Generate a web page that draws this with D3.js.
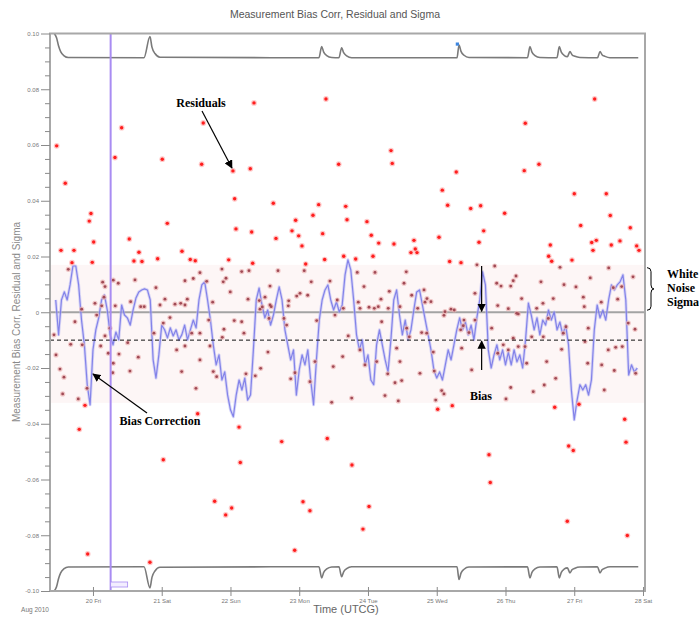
<!DOCTYPE html>
<html>
<head>
<meta charset="utf-8">
<script src="https://cdn.jsdelivr.net/npm/d3@7"></script>
<style>
  body { margin: 0; background: #fff; }
  svg { display: block; }
</style>
</head>
<body>
<svg id="chart" width="699" height="621"></svg>
<script>
// ---------------------------------------------------------------------------
// Data (time given in days or hours after 20 Aug 2010 00:00 UTCG)
// ---------------------------------------------------------------------------
const chartTitle = "Measurement Bias Corr, Residual and Sigma";
const yAxisTitle = "Measurement Bias Corr, Residual and Sigma";
const xAxisTitle = "Time (UTCG)";
const xEpochLabel = "Aug 2010";

const timeStart = new Date(Date.UTC(2010, 7, 19, 9, 0));
const timeEnd = new Date(Date.UTC(2010, 7, 28, 0, 42));
const xTickDates = d3.range(20, 29).map(day => new Date(Date.UTC(2010, 7, day)));

const yMajorTicks = [0.10, 0.08, 0.06, 0.04, 0.02, 0, -0.02, -0.04, -0.06, -0.08, -0.10];

// Residuals: time (days) and value
const residualDay = [
  -0.528,-0.403,-0.465,-0.276,-0.029,-0.054,0.010,-0.010,-0.305,0.417,0.320,0.528,0.669,0.596,0.713,
  1.008,1.081,0.941,1.295,1.415,1.488,1.604,1.581,2.036,2.288,2.342,2.061,2.080,2.308,1.974,
  2.623,2.662,2.948,2.895,2.992,3.040,3.200,3.283,3.341,3.389,3.574,3.676,3.695,3.647,3.370,
  2.323,3.094,3.821,3.985,4.048,4.156,4.073,4.335,4.353,4.378,4.669,4.688,4.625,4.713,
  5.081,5.159,5.284,5.033,5.188,5.353,5.494,5.639,5.683,5.615,5.585,5.988,6.288,6.273,6.487,
  6.652,6.628,6.672,6.967,7.001,7.094,7.297,7.466,7.524,7.254,7.321,7.273,7.539,7.665,7.815,
  7.908,7.942,6.793,
  -0.116,-0.199,-0.077,0.829,1.023,1.523,2.124,2.143,1.770,2.017,1.930,2.745,2.934,3.055,3.156,
  3.408,3.472,3.767,4.015,3.927,5.014,5.226,5.760,5.779,6.716,7.069,6.919,6.986,6.899,7.734,
  7.753,7.772,
  -0.359,0.141,0.175,0.160,0.029,0.127,-0.164,0.054,0.295,0.368,0.611,0.548,0.746,0.694,0.916,
  1.047,1.193,1.276,1.338,1.372,1.459,1.556,1.654,1.876,1.895,1.935,1.997,2.163,2.269,2.255,
  2.429,2.502,2.575,2.593,2.691,2.847,2.963,3.011,3.123,3.073,3.175,3.447,3.553,3.641,1.741,
  1.120,-0.262,-0.567,-0.324,-0.156,-0.538,-0.480,-0.422,-0.441,-0.214,-0.087,0.112,0.175,0.247,
  0.223,0.295,0.287,0.378,0.505,0.659,0.538,0.324,1.023,0.887,1.217,1.290,0.975,1.338,1.498,
  1.556,1.556,1.338,1.436,1.683,1.702,1.750,1.799,1.881,1.905,2.055,2.163,2.196,2.225,2.361,
  2.439,2.463,2.575,2.560,2.545,2.778,2.817,2.841,2.938,2.876,3.156,3.254,3.520,3.632,3.495,
  3.229,2.419,3.844,4.102,3.942,3.859,3.884,4.015,4.092,4.189,4.310,4.295,4.465,4.524,4.557,
  4.636,4.815,4.858,4.916,4.829,4.723,5.105,5.207,5.255,5.556,5.843,5.872,5.935,6.076,6.113,
  6.153,5.887,6.041,6.235,6.516,6.545,6.695,6.851,7.025,7.132,7.233,7.393,7.501,7.568,7.632,
  7.690,7.855,6.163,4.150,4.199,3.713,3.884,3.956,4.127,4.287,4.417,4.465,4.393,4.490,4.247,
  4.441,3.763,4.563,4.601,4.781,4.854,4.950,4.756,4.964,4.985,5.072,5.105,5.120,5.396,5.386,
  5.348,5.469,5.556,5.508,5.363,5.799,5.887,5.968,6.041,6.113,6.186,6.284,6.186,6.076,6.007,
  6.381,6.308,6.599,6.404,6.564,6.550,6.730,6.841,6.880,6.817,6.623,6.454,7.204,7.156,7.196,
  7.399,7.437,7.495,7.603,7.699,7.786,7.884,7.894,7.583,7.146
];
const residualValue = [
  0.0597,0.0463,0.0222,0.0222,0.0354,0.0327,0.0252,0.0179,0.0178,0.0662,0.0555,0.0263,0.0215,0.0184,0.0182,
  0.0549,0.0319,0.0192,0.0219,0.0189,0.0185,0.0679,0.0531,0.0507,0.0515,0.0751,0.0407,0.0299,0.0288,0.0188,
  0.0391,0.0265,0.0330,0.0292,0.0274,0.0238,0.0348,0.0386,0.0282,0.0765,0.0531,0.0380,0.0332,0.0201,0.0189,
  0.0176,0.0173,0.0191,0.0325,0.0276,0.0248,0.0201,0.0580,0.0534,0.0245,0.0258,0.0227,0.0214,0.0214,
  0.0438,0.0384,0.0503,0.0269,0.0182,0.0178,0.0372,0.0382,0.0292,0.0251,0.0170,0.0355,0.0678,0.0508,0.0531,
  0.0241,0.0201,0.0183,0.0187,0.0425,0.0311,0.0765,0.0425,0.0347,0.0250,0.0258,0.0222,0.0241,0.0256,0.0303,
  0.0238,0.0222,0.0161,
  -0.0334,-0.0420,-0.0867,-0.0897,-0.0529,-0.0364,-0.0412,-0.0539,-0.0678,-0.0702,-0.0727,-0.0464,-0.0854,-0.0680,-0.0712,
  -0.0453,-0.0323,-0.0548,-0.0697,-0.0778,-0.0348,-0.0335,-0.0511,-0.0611,-0.0341,-0.0330,-0.0480,-0.0496,-0.0750,-0.0384,
  -0.0466,-0.0801,
  0.0154,0.0108,0.0092,0.0054,0.0032,0.0023,0.0011,-0.0010,0.0115,0.0104,0.0116,0.0038,0.0020,0.0020,0.0088,
  0.0047,0.0029,0.0032,0.0113,0.0047,0.0121,0.0142,0.0111,0.0155,0.0109,0.0122,0.0073,0.0146,0.0149,0.0047,
  0.0011,0.0054,0.0094,0.0020,0.0149,0.0041,0.0058,0.0068,0.0061,0.0149,0.0109,0.0112,0.0044,0.0014,0.0036,
  -0.0019,-0.0034,-0.0081,-0.0115,-0.0117,-0.0153,-0.0204,-0.0233,-0.0293,-0.0311,-0.0273,-0.0121,-0.0085,-0.0057,
  -0.0147,-0.0183,-0.0217,-0.0150,-0.0109,-0.0161,-0.0211,0.0023,-0.0039,-0.0075,-0.0135,-0.0213,0.0026,0.0026,-0.0273,
  -0.0171,-0.0075,-0.0121,-0.0075,-0.0028,-0.0121,-0.0213,-0.0231,-0.0090,-0.0061,-0.0030,-0.0034,-0.0075,-0.0221,-0.0228,
  -0.0201,0.0019,0.0026,-0.0022,-0.0143,-0.0022,-0.0046,0.0023,-0.0217,-0.0239,-0.0249,-0.0030,-0.0010,-0.0159,-0.0195,
  -0.0177,0.0042,0.0143,0.0143,0.0092,0.0036,0.0014,0.0018,0.0014,0.0047,0.0075,0.0014,0.0020,0.0104,0.0145,
  0.0061,0.0080,0.0049,0.0038,0.0036,0.0014,-0.0011,0.0011,0.0008,0.0068,0.0166,0.0104,0.0094,0.0094,0.0113,
  0.0130,0.0024,0.0013,0.0049,0.0109,0.0032,0.0049,0.0099,0.0091,0.0054,0.0123,0.0036,0.0159,0.0088,0.0047,
  0.0092,0.0127,-0.0004,0.0020,-0.0034,-0.0085,-0.0135,-0.0189,-0.0177,-0.0221,-0.0129,-0.0177,-0.0253,-0.0245,-0.0299,
  -0.0318,-0.0308,-0.0057,-0.0088,-0.0073,-0.0075,-0.0143,-0.0219,-0.0211,-0.0315,-0.0281,-0.0293,0.0002,-0.0028,-0.0048,
  -0.0063,-0.0073,-0.0028,-0.0207,-0.0129,-0.0057,-0.0147,-0.0117,-0.0135,-0.0093,-0.0123,-0.0123,-0.0006,-0.0270,-0.0311,
  -0.0088,-0.0183,-0.0177,-0.0285,-0.0261,-0.0088,-0.0237,-0.0075,-0.0052,-0.0133,-0.0022,0.0014,-0.0057,-0.0105,-0.0183,
  -0.0189,-0.0279,-0.0135,-0.0126,-0.0123,-0.0039,-0.0061,-0.0219,-0.0209,0.0020
];

// Bias correction, sampled hourly starting at hour -13
const biasCorrStartHour = -13;
const biasCorrValue = [
  0.0044,-0.0081,0.0044,0.0073,0.0044,0.0098,0.0166,0.0166,0.0098,-0.0028,-0.0117,-0.0260,-0.0332,
  -0.0135,-0.0063,-0.0020,0.0044,0.0062,0.0008,-0.0081,-0.0117,-0.0071,-0.0099,
  0.0026,-0.0010,-0.0020,-0.0046,0.0008,0.0051,0.0073,0.0080,0.0084,0.0080,
  0.0044,-0.0171,-0.0236,-0.0153,-0.0046,-0.0063,-0.0092,-0.0056,-0.0085,-0.0063,
  -0.0099,-0.0081,-0.0046,-0.0099,-0.0063,-0.0028,-0.0056,0.0044,0.0098,0.0109,
  0.0044,-0.0028,-0.0117,-0.0189,-0.0153,-0.0243,-0.0214,-0.0297,-0.0350,-0.0375,
  -0.0297,-0.0243,-0.0279,-0.0236,-0.0315,-0.0297,-0.0135,0.0044,0.0087,0.0026,
  -0.0020,0.0008,-0.0046,-0.0010,0.0044,0.0091,0.0044,-0.0063,-0.0117,-0.0171,
  -0.0135,-0.0297,-0.0207,-0.0153,-0.0189,-0.0135,-0.0243,-0.0332,-0.0171,-0.0028,
  0.0044,0.0080,0.0098,0.0044,0.0008,0.0037,0.0001,0.0026,0.0134,0.0188,
  0.0152,0.0044,-0.0081,-0.0135,-0.0099,-0.0189,-0.0153,-0.0243,-0.0260,-0.0117,
  -0.0063,-0.0117,-0.0171,-0.0214,-0.0099,0.0044,0.0080,-0.0010,-0.0081,-0.0028,
  -0.0099,-0.0063,0.0008,0.0073,0.0080,0.0026,-0.0028,-0.0081,-0.0135,-0.0207,
  -0.0236,-0.0214,-0.0243,-0.0189,-0.0135,-0.0171,-0.0117,-0.0063,-0.0020,-0.0063,
  -0.0035,-0.0081,-0.0046,-0.0099,-0.0020,0.0044,0.0145,0.0098,-0.0135,-0.0200,
  -0.0153,-0.0117,-0.0171,-0.0135,-0.0189,-0.0143,-0.0189,-0.0135,-0.0178,-0.0153,
  -0.0200,-0.0099,0.0033,-0.0010,-0.0063,-0.0020,-0.0081,-0.0028,-0.0046,0.0008,
  -0.0028,0.0001,-0.0063,-0.0035,-0.0081,-0.0046,-0.0117,-0.0279,-0.0386,-0.0315,
  -0.0260,-0.0279,-0.0260,-0.0297,-0.0243,-0.0063,0.0026,-0.0020,0.0008,-0.0028,
  0.0044,0.0098,0.0080,0.0098,0.0109,0.0134,0.0044,-0.0225,-0.0189,-0.0214,
  -0.0200
];

// Filter sigma (drawn as +sigma and -sigma)
const sigmaDay = [
  -0.563,-0.530,-0.500,-0.470,-0.420,-0.360,
  0.742,0.829,0.858,0.902,0.974,
  3.287,3.327,3.356,3.400,3.472,
  3.578,3.617,3.646,3.690,3.762,
  5.295,5.324,5.353,5.397,5.469,
  6.320,6.356,6.385,6.429,6.501,
  6.749,6.783,6.812,6.856,6.900,6.938,6.967,7.011,7.083,
  7.338,7.375,7.404,7.448,7.520,
  7.931
];
const sigmaValue = [
  0.1000,0.0985,0.0955,0.0935,0.0920,0.0914,
  0.0913,0.0989,0.0951,0.0928,0.0915,
  0.0913,0.0953,0.0933,0.0921,0.0914,
  0.0913,0.0949,0.0931,0.0920,0.0913,
  0.0913,0.0959,0.0936,0.0922,0.0914,
  0.0913,0.0953,0.0933,0.0921,0.0914,
  0.0913,0.0953,0.0933,0.0921,0.0917,0.0935,0.0924,0.0918,0.0914,
  0.0913,0.0935,0.0924,0.0918,0.0913,
  0.0913
];

const biasLevel = -0.010;          // estimated measurement bias
const whiteNoiseSigma = 0.016;     // white noise sigma bracket
const bandUpper = 0.0170;          // shaded residual band
const bandLower = -0.0325;
const epochMarkerDay = 0.257;      // vertical time marker
const sigmaMarkerDay = 5.300, sigmaMarkerValue = 0.0962;
const biasArrowDay = 5.653;

// ---------------------------------------------------------------------------
const DAY = 864e5;
const T0 = Date.UTC(2010, 7, 20);
const dayToDate = d => new Date(T0 + d * DAY);

const svg = d3.select("#chart");
const plot = { left: 50, right: 645, top: 33.5, bottom: 591 };

const x = d3.scaleUtc().domain([timeStart, timeEnd]).range([plot.left, plot.right]);
const y = d3.scaleLinear().domain([-0.10, 0.10]).range([plot.bottom, plot.top]);

const sansFont = "'Liberation Sans', Arial, sans-serif";
const serifFont = "'Liberation Serif', 'Times New Roman', serif";

// Title
svg.append("text")
  .attr("x", 335).attr("y", 18)
  .attr("text-anchor", "middle")
  .attr("font-family", sansFont).attr("font-size", 10.5)
  .attr("fill", "#555")
  .text(chartTitle);

// Plot group clipped to the frame
svg.append("defs").append("clipPath").attr("id", "plotClip")
  .append("rect")
  .attr("x", plot.left).attr("y", plot.top)
  .attr("width", plot.right - plot.left).attr("height", plot.bottom - plot.top);

const g = svg.append("g").attr("clip-path", "url(#plotClip)");

// Shaded residual band
g.append("rect")
  .attr("x", plot.left).attr("width", plot.right - plot.left)
  .attr("y", y(bandUpper)).attr("height", y(bandLower) - y(bandUpper))
  .attr("fill", "#fdf6f6");

// Zero line
g.append("line")
  .attr("x1", plot.left).attr("x2", plot.right)
  .attr("y1", y(0)).attr("y2", y(0))
  .attr("stroke", "#a3a3a3").attr("stroke-width", 2);

// Bias correction line
const biasCorr = biasCorrValue.map((v, i) => ({
  t: new Date(T0 + (biasCorrStartHour + i) * 36e5), v
}));
const biasLine = d3.line().x(d => x(d.t)).y(d => y(d.v));
g.append("path").datum(biasCorr)
  .attr("d", biasLine).attr("fill", "none")
  .attr("stroke", "#b8b8f4").attr("stroke-width", 3).attr("opacity", 0.55)
  .attr("stroke-linejoin", "round");
g.append("path").datum(biasCorr)
  .attr("d", biasLine).attr("fill", "none")
  .attr("stroke", "#7474e6").attr("stroke-width", 1.2).attr("opacity", 0.85)
  .attr("stroke-linejoin", "round");

// Residual points
const residuals = residualDay.map((d, i) => ({ t: dayToDate(d), v: residualValue[i] }));
const inBand = d => d.v <= bandUpper && d.v >= bandLower;
g.append("g").selectAll("circle").data(residuals).join("circle")
  .attr("cx", d => x(d.t)).attr("cy", d => y(d.v))
  .attr("r", d => inBand(d) ? 2.6 : 2.9)
  .attr("fill", d => inBand(d) ? "#eab0b0" : "#ffb0b0")
  .attr("opacity", 0.7);
g.append("g").selectAll("circle").data(residuals).join("circle")
  .attr("cx", d => x(d.t)).attr("cy", d => y(d.v))
  .attr("r", d => inBand(d) ? 1.4 : 1.7)
  .attr("fill", d => inBand(d) ? "#a04a55" : "#ff1e1e");

// Bias level (dashed)
g.append("line")
  .attr("x1", plot.left).attr("x2", plot.right)
  .attr("y1", y(biasLevel)).attr("y2", y(biasLevel))
  .attr("stroke", "#111").attr("stroke-width", 1)
  .attr("stroke-dasharray", "4,3");

// Sigma envelope
const sigma = sigmaDay.map((d, i) => ({ t: dayToDate(d), v: sigmaValue[i] }));
const sigmaLine = d3.line().x(d => x(d.t)).y(d => y(d.v)).curve(d3.curveMonotoneX);
const sigmaLineNeg = d3.line().x(d => x(d.t)).y(d => y(-d.v)).curve(d3.curveMonotoneX);
g.append("path").datum(sigma).attr("d", sigmaLine)
  .attr("fill", "none").attr("stroke", "#7a7a7a").attr("stroke-width", 1.6);
g.append("path").datum(sigma).attr("d", sigmaLineNeg)
  .attr("fill", "none").attr("stroke", "#7a7a7a").attr("stroke-width", 1.6);

// Sigma marker
g.append("rect")
  .attr("x", x(dayToDate(sigmaMarkerDay)) - 1.6).attr("y", y(sigmaMarkerValue) - 1.6)
  .attr("width", 3.2).attr("height", 3.2).attr("fill", "#3d86e0");

// Vertical time marker
const epochX = x(dayToDate(epochMarkerDay));
g.append("line")
  .attr("x1", epochX).attr("x2", epochX)
  .attr("y1", plot.top).attr("y2", plot.bottom)
  .attr("stroke", "#a98cf2").attr("stroke-width", 2);
g.append("rect")
  .attr("x", epochX).attr("y", plot.bottom - 9)
  .attr("width", 17).attr("height", 5)
  .attr("fill", "#f3eeff").attr("stroke", "#a98cf2").attr("stroke-width", 0.8);

// Frame
svg.append("rect")
  .attr("x", plot.left).attr("y", plot.top)
  .attr("width", plot.right - plot.left).attr("height", plot.bottom - plot.top)
  .attr("fill", "none").attr("stroke", "#a8a8a8").attr("stroke-width", 2);

// Y axis: majors with labels, minors every 0.005
const yMinorTicks = d3.range(-20, 21).filter(i => i % 4 !== 0).map(i => i * 0.005);
const yAxis = svg.append("g").attr("transform", `translate(${plot.left},0)`)
  .call(d3.axisLeft(y).tickValues(yMajorTicks).tickSize(9).tickPadding(2)
    .tickFormat(v => v === 0 ? "0" : v.toFixed(2)));
yAxis.select(".domain").remove();
yAxis.selectAll(".tick line").attr("stroke", "#8a8a8a");
yAxis.selectAll(".tick text").attr("font-family", sansFont).attr("font-size", 6).attr("fill", "#777");
const yMinor = svg.append("g").attr("transform", `translate(${plot.left},0)`)
  .call(d3.axisLeft(y).tickValues(yMinorTicks).tickSize(5).tickFormat(""));
yMinor.select(".domain").remove();
yMinor.selectAll(".tick line").attr("stroke", "#8a8a8a");

// X axis
const xAxis = svg.append("g").attr("transform", `translate(0,${plot.bottom})`)
  .call(d3.axisBottom(x).tickValues(xTickDates).tickSize(5).tickPadding(3)
    .tickFormat(d3.utcFormat("%-d %a")));
xAxis.select(".domain").remove();
xAxis.selectAll(".tick line").attr("stroke", "#8a8a8a").attr("y1", -4);
xAxis.selectAll(".tick text").attr("font-family", sansFont).attr("font-size", 6).attr("fill", "#777");

svg.append("text")
  .attr("x", 35).attr("y", 612).attr("text-anchor", "middle")
  .attr("font-family", sansFont).attr("font-size", 6.5).attr("fill", "#777")
  .text(xEpochLabel);

svg.append("text")
  .attr("x", 346).attr("y", 613).attr("text-anchor", "middle")
  .attr("font-family", sansFont).attr("font-size", 11).attr("fill", "#666")
  .text(xAxisTitle);

svg.append("text")
  .attr("transform", "translate(20,322) rotate(-90)")
  .attr("text-anchor", "middle")
  .attr("font-family", sansFont).attr("font-size", 10).attr("fill", "#8a8a8a")
  .text(yAxisTitle);

// Annotations
const defs = svg.select("defs");
defs.append("marker").attr("id", "arrowHead")
  .attr("viewBox", "0 0 10 10").attr("refX", 9).attr("refY", 5)
  .attr("markerWidth", 7).attr("markerHeight", 7).attr("orient", "auto")
  .append("path").attr("d", "M0,0 L10,5 L0,10 z").attr("fill", "#000");

const ann = svg.append("g");
function label(txt, px, py, anchor = "middle") {
  ann.append("text").attr("x", px).attr("y", py).attr("text-anchor", anchor)
    .attr("font-family", serifFont).attr("font-weight", "bold").attr("font-size", 12)
    .attr("fill", "#000").text(txt);
}
function arrow(x1, y1, x2, y2) {
  ann.append("line").attr("x1", x1).attr("y1", y1).attr("x2", x2).attr("y2", y2)
    .attr("stroke", "#000").attr("stroke-width", 1.2).attr("marker-end", "url(#arrowHead)");
}

label("Residuals", 201, 107);
arrow(202, 111, x(dayToDate(residualDay[23])) - 1, y(residualValue[23]) - 3);

label("Bias Correction", 160, 425);
arrow(147, 413, 93, 374);

const biasX = x(dayToDate(biasArrowDay));
label("Bias", 481, 400);
arrow(biasX, 370, biasX, y(biasLevel) + 1);
arrow(biasX, 266, biasX, y(0) - 1);

// White noise sigma bracket
const bTop = y(whiteNoiseSigma), bBot = y(0) - 2, bMid = (bTop + bBot) / 2;
ann.append("path")
  .attr("d", `M647,${bTop} Q651,${bTop} 651,${bTop + 4} L651,${bMid - 4} Q651,${bMid} 654,${bMid}
              Q651,${bMid} 651,${bMid + 4} L651,${bBot - 4} Q651,${bBot} 647,${bBot}`)
  .attr("fill", "none").attr("stroke", "#000").attr("stroke-width", 1);
label("White", 667, bMid - 11, "start");
label("Noise", 667, bMid + 3, "start");
label("Sigma", 667, bMid + 17, "start");
</script>
</body>
</html>
